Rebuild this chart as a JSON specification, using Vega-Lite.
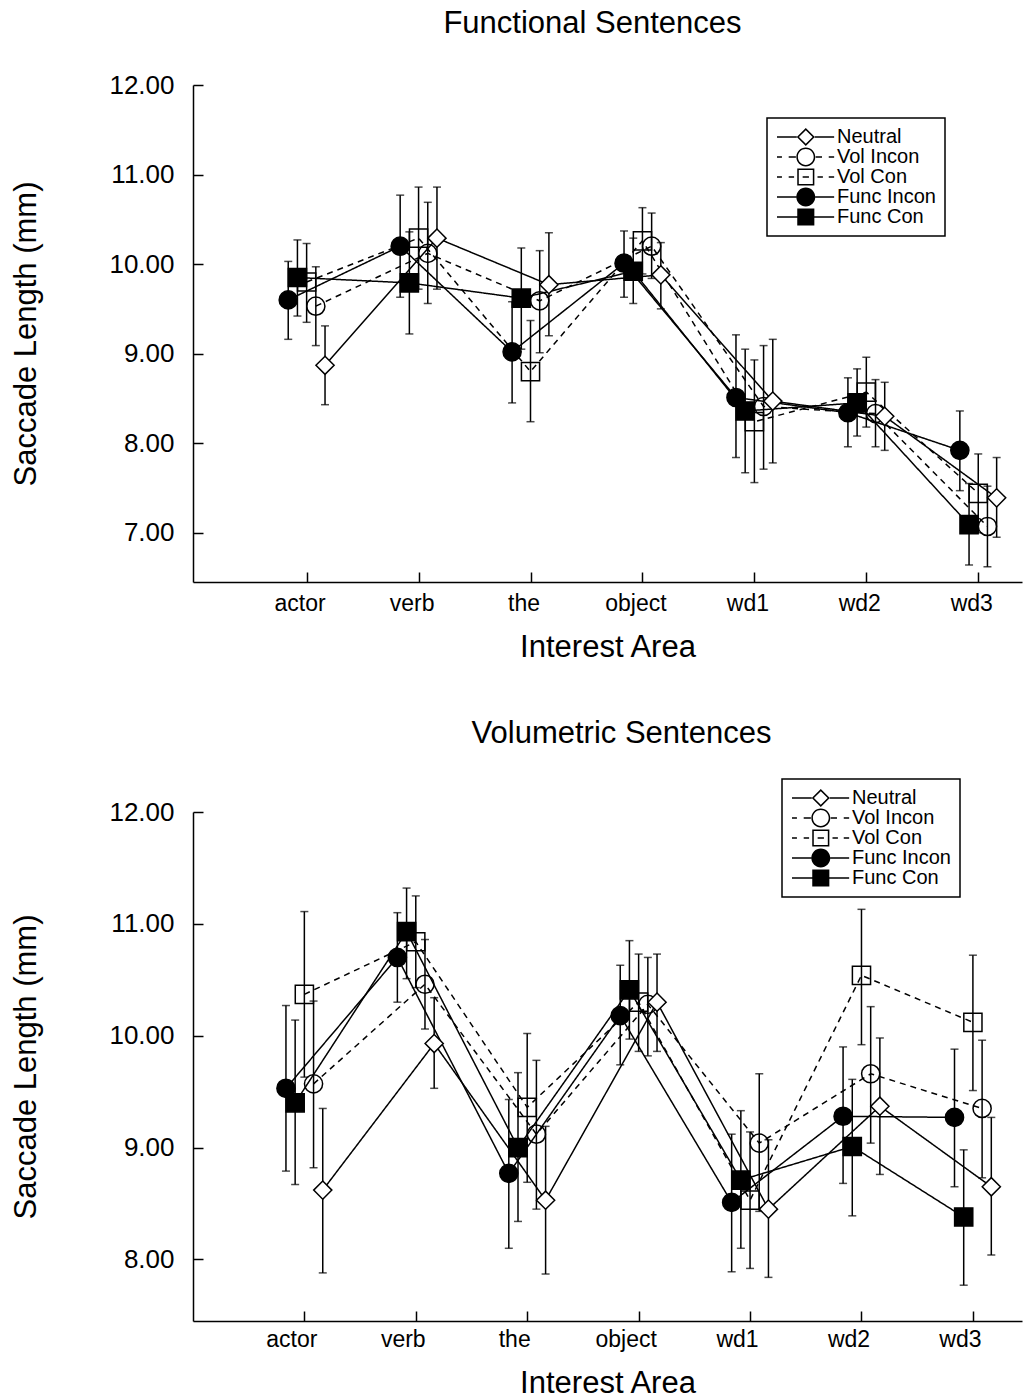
{
  "$schema": "https://vega.github.io/schema/vega-lite/v6.json",
  "padding": {"left": 10, "top": 8, "right": 2, "bottom": 0},
  "background": "white",
  "config": {
    "font": "Liberation Sans",
    "view": {"stroke": null},
    "axis": {"domainColor": "black", "domainWidth": 1.5, "tickColor": "black", "tickWidth": 1.5, "labelColor": "black", "titleColor": "black", "grid": false, "labelFont": "Liberation Sans", "titleFont": "Liberation Sans", "titleFontWeight": "normal", "titleFontSize": 31},
    "title": {"font": "Liberation Sans", "fontSize": 31, "fontWeight": "normal", "color": "black", "frame": "group"},
    "legend": {"strokeColor": "black", "strokeWidth": 1.5, "padding": 9, "labelFont": "Liberation Sans", "labelFontSize": 20, "labelColor": "black", "symbolSize": 324, "symbolStrokeWidth": 0, "symbolFillColor": "black", "labelOffset": 41, "rowPadding": -6, "fillColor": "white"}
  },
  "resolve": {
    "scale": {"shape": "independent", "fill": "independent", "strokeDash": "independent"},
    "legend": {"shape": "independent", "fill": "independent", "strokeDash": "independent"}
  },
  "datasets": {
    "d": [
      {"p": "F", "area": "actor", "series": "Func Incon", "m": 9.60, "lo": 9.16, "hi": 10.03},
      {"p": "F", "area": "actor", "series": "Func Con", "m": 9.85, "lo": 9.42, "hi": 10.27},
      {"p": "F", "area": "actor", "series": "Vol Con", "m": 9.80, "lo": 9.35, "hi": 10.23},
      {"p": "F", "area": "actor", "series": "Vol Incon", "m": 9.53, "lo": 9.09, "hi": 9.97},
      {"p": "F", "area": "actor", "series": "Neutral", "m": 8.87, "lo": 8.43, "hi": 9.31},
      {"p": "F", "area": "verb", "series": "Func Incon", "m": 10.20, "lo": 9.63, "hi": 10.77},
      {"p": "F", "area": "verb", "series": "Func Con", "m": 9.79, "lo": 9.22, "hi": 10.36},
      {"p": "F", "area": "verb", "series": "Vol Con", "m": 10.29, "lo": 9.72, "hi": 10.86},
      {"p": "F", "area": "verb", "series": "Vol Incon", "m": 10.12, "lo": 9.56, "hi": 10.69},
      {"p": "F", "area": "verb", "series": "Neutral", "m": 10.29, "lo": 9.72, "hi": 10.86},
      {"p": "F", "area": "the", "series": "Func Incon", "m": 9.02, "lo": 8.45, "hi": 9.58},
      {"p": "F", "area": "the", "series": "Func Con", "m": 9.62, "lo": 9.05, "hi": 10.18},
      {"p": "F", "area": "the", "series": "Vol Con", "m": 8.80, "lo": 8.24, "hi": 9.37},
      {"p": "F", "area": "the", "series": "Vol Incon", "m": 9.59, "lo": 9.01, "hi": 10.15},
      {"p": "F", "area": "the", "series": "Neutral", "m": 9.77, "lo": 9.20, "hi": 10.35},
      {"p": "F", "area": "object", "series": "Func Incon", "m": 10.01, "lo": 9.63, "hi": 10.37},
      {"p": "F", "area": "object", "series": "Func Con", "m": 9.92, "lo": 9.56, "hi": 10.29},
      {"p": "F", "area": "object", "series": "Vol Con", "m": 10.26, "lo": 9.89, "hi": 10.63},
      {"p": "F", "area": "object", "series": "Vol Incon", "m": 10.20, "lo": 9.84, "hi": 10.57},
      {"p": "F", "area": "object", "series": "Neutral", "m": 9.88, "lo": 9.50, "hi": 10.24},
      {"p": "F", "area": "wd1", "series": "Func Incon", "m": 8.51, "lo": 7.84, "hi": 9.21},
      {"p": "F", "area": "wd1", "series": "Func Con", "m": 8.36, "lo": 7.67, "hi": 9.05},
      {"p": "F", "area": "wd1", "series": "Vol Con", "m": 8.24, "lo": 7.56, "hi": 8.93},
      {"p": "F", "area": "wd1", "series": "Vol Incon", "m": 8.41, "lo": 7.71, "hi": 9.09},
      {"p": "F", "area": "wd1", "series": "Neutral", "m": 8.47, "lo": 7.78, "hi": 9.16},
      {"p": "F", "area": "wd2", "series": "Func Incon", "m": 8.34, "lo": 7.96, "hi": 8.73},
      {"p": "F", "area": "wd2", "series": "Func Con", "m": 8.45, "lo": 8.08, "hi": 8.83},
      {"p": "F", "area": "wd2", "series": "Vol Con", "m": 8.57, "lo": 8.18, "hi": 8.96},
      {"p": "F", "area": "wd2", "series": "Vol Incon", "m": 8.33, "lo": 7.96, "hi": 8.71},
      {"p": "F", "area": "wd2", "series": "Neutral", "m": 8.30, "lo": 7.92, "hi": 8.68},
      {"p": "F", "area": "wd3", "series": "Func Incon", "m": 7.92, "lo": 7.47, "hi": 8.36},
      {"p": "F", "area": "wd3", "series": "Func Con", "m": 7.09, "lo": 6.64, "hi": 7.55},
      {"p": "F", "area": "wd3", "series": "Vol Con", "m": 7.44, "lo": 7.00, "hi": 7.88},
      {"p": "F", "area": "wd3", "series": "Vol Incon", "m": 7.07, "lo": 6.62, "hi": 7.52},
      {"p": "F", "area": "wd3", "series": "Neutral", "m": 7.39, "lo": 6.95, "hi": 7.84},
      {"p": "V", "area": "actor", "series": "Func Incon", "m": 9.53, "lo": 8.79, "hi": 10.27},
      {"p": "V", "area": "actor", "series": "Func Con", "m": 9.40, "lo": 8.67, "hi": 10.14},
      {"p": "V", "area": "actor", "series": "Vol Con", "m": 10.37, "lo": 9.63, "hi": 11.11},
      {"p": "V", "area": "actor", "series": "Vol Incon", "m": 9.57, "lo": 8.82, "hi": 10.31},
      {"p": "V", "area": "actor", "series": "Neutral", "m": 8.62, "lo": 7.88, "hi": 9.35},
      {"p": "V", "area": "verb", "series": "Func Incon", "m": 10.70, "lo": 10.30, "hi": 11.10},
      {"p": "V", "area": "verb", "series": "Func Con", "m": 10.93, "lo": 10.51, "hi": 11.32},
      {"p": "V", "area": "verb", "series": "Vol Con", "m": 10.84, "lo": 10.43, "hi": 11.25},
      {"p": "V", "area": "verb", "series": "Vol Incon", "m": 10.46, "lo": 10.06, "hi": 10.86},
      {"p": "V", "area": "verb", "series": "Neutral", "m": 9.93, "lo": 9.53, "hi": 10.34},
      {"p": "V", "area": "the", "series": "Func Incon", "m": 8.77, "lo": 8.10, "hi": 9.43},
      {"p": "V", "area": "the", "series": "Func Con", "m": 9.00, "lo": 8.34, "hi": 9.67},
      {"p": "V", "area": "the", "series": "Vol Con", "m": 9.36, "lo": 8.69, "hi": 10.02},
      {"p": "V", "area": "the", "series": "Vol Incon", "m": 9.12, "lo": 8.45, "hi": 9.78},
      {"p": "V", "area": "the", "series": "Neutral", "m": 8.53, "lo": 7.87, "hi": 9.19},
      {"p": "V", "area": "object", "series": "Func Incon", "m": 10.18, "lo": 9.74, "hi": 10.63},
      {"p": "V", "area": "object", "series": "Func Con", "m": 10.41, "lo": 9.97, "hi": 10.85},
      {"p": "V", "area": "object", "series": "Vol Con", "m": 10.30, "lo": 9.86, "hi": 10.73},
      {"p": "V", "area": "object", "series": "Vol Incon", "m": 10.28, "lo": 9.82, "hi": 10.70},
      {"p": "V", "area": "object", "series": "Neutral", "m": 10.30, "lo": 9.86, "hi": 10.73},
      {"p": "V", "area": "wd1", "series": "Func Incon", "m": 8.51, "lo": 7.89, "hi": 9.12},
      {"p": "V", "area": "wd1", "series": "Func Con", "m": 8.71, "lo": 8.10, "hi": 9.33},
      {"p": "V", "area": "wd1", "series": "Vol Con", "m": 8.53, "lo": 7.92, "hi": 9.14},
      {"p": "V", "area": "wd1", "series": "Vol Incon", "m": 9.04, "lo": 8.43, "hi": 9.66},
      {"p": "V", "area": "wd1", "series": "Neutral", "m": 8.45, "lo": 7.84, "hi": 9.07},
      {"p": "V", "area": "wd2", "series": "Func Incon", "m": 9.28, "lo": 8.68, "hi": 9.90},
      {"p": "V", "area": "wd2", "series": "Func Con", "m": 9.01, "lo": 8.39, "hi": 9.61},
      {"p": "V", "area": "wd2", "series": "Vol Con", "m": 10.54, "lo": 9.92, "hi": 11.13},
      {"p": "V", "area": "wd2", "series": "Vol Incon", "m": 9.66, "lo": 9.04, "hi": 10.26},
      {"p": "V", "area": "wd2", "series": "Neutral", "m": 9.37, "lo": 8.76, "hi": 9.98},
      {"p": "V", "area": "wd3", "series": "Func Incon", "m": 9.27, "lo": 8.65, "hi": 9.88},
      {"p": "V", "area": "wd3", "series": "Func Con", "m": 8.38, "lo": 7.77, "hi": 8.98},
      {"p": "V", "area": "wd3", "series": "Vol Con", "m": 10.12, "lo": 9.51, "hi": 10.72},
      {"p": "V", "area": "wd3", "series": "Vol Incon", "m": 9.35, "lo": 8.73, "hi": 9.96},
      {"p": "V", "area": "wd3", "series": "Neutral", "m": 8.65, "lo": 8.04, "hi": 9.27}
    ]
  },
  "spacing": 56,
  "vconcat": [
    {
      "title": {"text": "Functional Sentences", "dx": -15, "offset": 32},
      "width": 829,
      "height": 497,
      "data": {"name": "d"},
      "transform": [{"filter": "datum.p === 'F'"}],
      "resolve": {"scale": {"shape": "independent"}},
      "encoding": {
        "x": {"field": "area", "type": "nominal", "sort": ["actor", "verb", "the", "object", "wd1", "wd2", "wd3"],
              "scale": {"type": "point", "padding": 0.703, "align": 0.722},
              "axis": {"title": "Interest Area", "labelAngle": 0, "labelFontSize": 23, "tickSize": -10, "labelPadding": 20, "labelOffset": -7, "titlePadding": 17}},
        "xOffset": {"field": "series", "type": "nominal", "sort": ["Func Incon", "Func Con", "Vol Con", "Vol Incon", "Neutral"],
                    "scale": {"type": "point", "range": [-23, 23]}}
      },
      "layer": [
        {"mark": {"type": "line", "color": "black", "strokeWidth": 1.5},
         "encoding": {
           "y": {"field": "m", "type": "quantitative", "scale": {"domain": [6.45, 12], "nice": false, "zero": false},
                 "axis": {"title": "Saccade Length (mm)", "values": [7, 8, 9, 10, 11, 12], "format": ".2f", "labelFontSize": 26, "tickSize": -10, "labelPadding": 29, "titlePadding": 66}},
           "strokeDash": {"field": "series", "type": "nominal", "scale": {"domain": ["Vol Incon", "Vol Con", "Neutral", "Func Incon", "Func Con"], "range": [[6, 5], [6, 5], [1, 0], [1, 0], [1, 0]]}, "legend": null}
         }},
        {"mark": {"type": "rule", "color": "black", "strokeWidth": 1.5},
         "encoding": {"y": {"field": "lo", "type": "quantitative"}, "y2": {"field": "hi"}}},
        {"mark": {"type": "tick", "color": "black", "size": 8, "thickness": 1.5, "orient": "horizontal"},
         "encoding": {"y": {"field": "lo", "type": "quantitative"}}},
        {"mark": {"type": "tick", "color": "black", "size": 8, "thickness": 1.5, "orient": "horizontal"},
         "encoding": {"y": {"field": "hi", "type": "quantitative"}}},
        {"mark": {"type": "point", "size": 330, "strokeWidth": 1.5, "stroke": "black", "opacity": 1},
         "encoding": {
           "y": {"field": "m", "type": "quantitative"},
           "fill": {"field": "series", "type": "nominal", "scale": {"domain": ["Func Incon", "Func Con", "Neutral", "Vol Incon", "Vol Con"], "range": ["black", "black", "white", "transparent", "transparent"]}, "legend": null},
           "shape": {"field": "series", "type": "nominal", "scale": {"domain": ["Func Incon", "Func Con", "Vol Con", "Vol Incon", "Neutral"], "range": ["circle", "square", "square", "circle", "diamond"]}, "legend": null}
         }},
        {"transform": [{"filter": "datum.p === 'none'"}],
         "mark": {"type": "point", "filled": true, "color": "black", "size": 324, "opacity": 1, "strokeWidth": 0},
         "encoding": {
           "y": {"field": "m", "type": "quantitative"},
           "shape": {"field": "series", "type": "nominal",
                     "scale": {"domain": ["Neutral", "Vol Incon", "Vol Con", "Func Incon", "Func Con"],
                               "range": [
                                 "M-1,-0.085H1.2V0.085H-1ZM1.2,0L2.2,-1L3.2,0L2.2,1ZM1.44,0L2.2,0.76L2.96,0L2.2,-0.76ZM3.2,-0.085H5.35V0.085H3.2Z",
                                 "M-1,-0.085H-0.45V0.085H-1ZM0.3,-0.085H1.1V0.085H0.3ZM1.15,0A1.05,1.05,0,1,1,3.25,0A1.05,1.05,0,1,1,1.15,0ZM1.32,0A0.88,0.88,0,1,0,3.08,0A0.88,0.88,0,1,0,1.32,0ZM3.3,-0.085H4V0.085H3.3ZM4.75,-0.085H5.35V0.085H4.75Z",
                                 "M-1,-0.085H-0.45V0.085H-1ZM0.3,-0.085H0.9V0.085H0.3ZM1.25,-0.95H3.15V0.95H1.25ZM1.42,-0.78V0.78H2.98V-0.78ZM1.85,-0.085H2.55V0.085H1.85ZM3.5,-0.085H4.1V0.085H3.5ZM4.75,-0.085H5.35V0.085H4.75Z",
                                 "M-1,-0.085H1.15V0.085H-1ZM1.15,0A1.05,1.05,0,1,1,3.25,0A1.05,1.05,0,1,1,1.15,0ZM3.25,-0.085H5.35V0.085H3.25Z",
                                 "M-1,-0.085H1.25V0.085H-1ZM1.25,-0.95H3.15V0.95H1.25ZM3.15,-0.085H5.35V0.085H3.15Z"
                               ]},
                     "legend": {"title": null, "orient": "none", "legendX": 574, "legendY": 33}}
         }}
      ]
    },
    {
      "title": {"text": "Volumetric Sentences", "dx": 14, "offset": 28},
      "width": 829,
      "height": 509,
      "data": {"name": "d"},
      "transform": [{"filter": "datum.p === 'V'"}],
      "resolve": {"scale": {"shape": "independent"}},
      "encoding": {
        "x": {"field": "area", "type": "nominal", "sort": ["actor", "verb", "the", "object", "wd1", "wd2", "wd3"],
              "scale": {"type": "point", "padding": 0.72, "align": 0.694},
              "axis": {"title": "Interest Area", "labelAngle": 0, "labelFontSize": 23, "tickSize": -10, "labelPadding": 17, "labelOffset": -13, "titlePadding": 17}},
        "xOffset": {"field": "series", "type": "nominal", "sort": ["Func Incon", "Func Con", "Vol Con", "Vol Incon", "Neutral"],
                    "scale": {"type": "point", "range": [-23, 23]}}
      },
      "layer": [
        {"mark": {"type": "line", "color": "black", "strokeWidth": 1.5},
         "encoding": {
           "y": {"field": "m", "type": "quantitative", "scale": {"domain": [7.45, 12], "nice": false, "zero": false},
                 "axis": {"title": "Saccade Length (mm)", "values": [8, 9, 10, 11, 12], "format": ".2f", "labelFontSize": 26, "tickSize": -10, "labelPadding": 29, "titlePadding": 66}},
           "strokeDash": {"field": "series", "type": "nominal", "scale": {"domain": ["Vol Incon", "Vol Con", "Neutral", "Func Incon", "Func Con"], "range": [[6, 5], [6, 5], [1, 0], [1, 0], [1, 0]]}, "legend": null}
         }},
        {"mark": {"type": "rule", "color": "black", "strokeWidth": 1.5},
         "encoding": {"y": {"field": "lo", "type": "quantitative"}, "y2": {"field": "hi"}}},
        {"mark": {"type": "tick", "color": "black", "size": 8, "thickness": 1.5, "orient": "horizontal"},
         "encoding": {"y": {"field": "lo", "type": "quantitative"}}},
        {"mark": {"type": "tick", "color": "black", "size": 8, "thickness": 1.5, "orient": "horizontal"},
         "encoding": {"y": {"field": "hi", "type": "quantitative"}}},
        {"mark": {"type": "point", "size": 330, "strokeWidth": 1.5, "stroke": "black", "opacity": 1},
         "encoding": {
           "y": {"field": "m", "type": "quantitative"},
           "fill": {"field": "series", "type": "nominal", "scale": {"domain": ["Func Incon", "Func Con", "Neutral", "Vol Incon", "Vol Con"], "range": ["black", "black", "white", "transparent", "transparent"]}, "legend": null},
           "shape": {"field": "series", "type": "nominal", "scale": {"domain": ["Func Incon", "Func Con", "Vol Con", "Vol Incon", "Neutral"], "range": ["circle", "square", "square", "circle", "diamond"]}, "legend": null}
         }},
        {"transform": [{"filter": "datum.p === 'none'"}],
         "mark": {"type": "point", "filled": true, "color": "black", "size": 324, "opacity": 1, "strokeWidth": 0},
         "encoding": {
           "y": {"field": "m", "type": "quantitative"},
           "shape": {"field": "series", "type": "nominal",
                     "scale": {"domain": ["Neutral", "Vol Incon", "Vol Con", "Func Incon", "Func Con"],
                               "range": [
                                 "M-1,-0.085H1.2V0.085H-1ZM1.2,0L2.2,-1L3.2,0L2.2,1ZM1.44,0L2.2,0.76L2.96,0L2.2,-0.76ZM3.2,-0.085H5.35V0.085H3.2Z",
                                 "M-1,-0.085H-0.45V0.085H-1ZM0.3,-0.085H1.1V0.085H0.3ZM1.15,0A1.05,1.05,0,1,1,3.25,0A1.05,1.05,0,1,1,1.15,0ZM1.32,0A0.88,0.88,0,1,0,3.08,0A0.88,0.88,0,1,0,1.32,0ZM3.3,-0.085H4V0.085H3.3ZM4.75,-0.085H5.35V0.085H4.75Z",
                                 "M-1,-0.085H-0.45V0.085H-1ZM0.3,-0.085H0.9V0.085H0.3ZM1.25,-0.95H3.15V0.95H1.25ZM1.42,-0.78V0.78H2.98V-0.78ZM1.85,-0.085H2.55V0.085H1.85ZM3.5,-0.085H4.1V0.085H3.5ZM4.75,-0.085H5.35V0.085H4.75Z",
                                 "M-1,-0.085H1.15V0.085H-1ZM1.15,0A1.05,1.05,0,1,1,3.25,0A1.05,1.05,0,1,1,1.15,0ZM3.25,-0.085H5.35V0.085H3.25Z",
                                 "M-1,-0.085H1.25V0.085H-1ZM1.25,-0.95H3.15V0.95H1.25ZM3.15,-0.085H5.35V0.085H3.15Z"
                               ]},
                     "legend": {"title": null, "orient": "none", "legendX": 589, "legendY": -33}}
         }}
      ]
    }
  ]
}
